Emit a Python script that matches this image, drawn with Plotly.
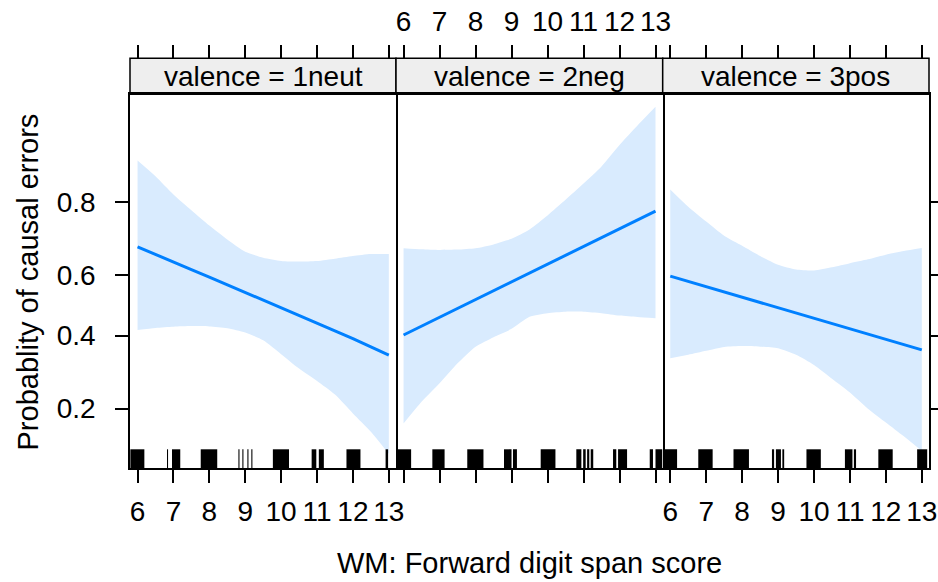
import numpy as np
import plotly.graph_objects as go

# ---------------- data ----------------
wm = [6, 6.5, 7, 7.5, 8, 8.5, 9, 9.5, 10, 10.5, 11, 11.5, 12, 12.5, 13]
x_ticks = [6, 7, 8, 9, 10, 11, 12, 13]
y_ticks = [0.2, 0.4, 0.6, 0.8]
y_ticktext = ["0.2", "0.4", "0.6", "0.8"]
panel_names = ["valence = 1neut", "valence = 2neg", "valence = 3pos"]

fit_neut = [0.687, 0.664, 0.641, 0.618, 0.594, 0.569, 0.544, 0.519, 0.493, 0.467, 0.441, 0.415, 0.390, 0.364, 0.339]
upper_neut = [0.875, 0.850, 0.816, 0.782, 0.745, 0.708, 0.673, 0.655, 0.645, 0.643, 0.645, 0.652, 0.660, 0.666, 0.666]
lower_neut = [0.418, 0.425, 0.429, 0.431, 0.430, 0.424, 0.410, 0.385, 0.342, 0.300, 0.266, 0.232, 0.190, 0.155, 0.120]

fit_neg = [0.402, 0.431, 0.460, 0.490, 0.519, 0.549, 0.578, 0.606, 0.634, 0.661, 0.687, 0.712, 0.736, 0.759, 0.780]
upper_neg = [0.683, 0.680, 0.678, 0.679, 0.683, 0.694, 0.710, 0.735, 0.770, 0.805, 0.837, 0.866, 0.896, 0.918, 0.935]
lower_neg = [0.170, 0.215, 0.260, 0.315, 0.365, 0.395, 0.422, 0.462, 0.474, 0.479, 0.479, 0.474, 0.466, 0.461, 0.457]

fit_pos = [0.597, 0.580, 0.562, 0.545, 0.528, 0.510, 0.492, 0.475, 0.457, 0.440, 0.423, 0.405, 0.388, 0.372, 0.355]
upper_pos = [0.826, 0.790, 0.755, 0.718, 0.690, 0.660, 0.633, 0.618, 0.615, 0.625, 0.638, 0.650, 0.664, 0.675, 0.684]
lower_pos = [0.330, 0.340, 0.352, 0.364, 0.367, 0.365, 0.360, 0.340, 0.310, 0.272, 0.237, 0.200, 0.172, 0.147, 0.124]

# rug: spans of observed (jittered) WM scores per panel
rug_neut = [[5.80, 6.19], [6.82, 6.85], [6.96, 7.19], [7.76, 8.22], [8.81, 8.84], [8.92, 8.95],
            [9.06, 9.09], [9.17, 9.20], [9.77, 10.22], [10.85, 10.98], [11.05, 11.19],
            [11.82, 12.21], [12.91, 12.98]]
rug_neg = [[5.80, 6.21], [6.80, 7.14], [7.77, 8.22], [8.79, 9.00], [9.04, 9.15], [9.81, 10.22],
           [10.80, 10.94], [10.99, 11.06], [11.10, 11.16], [11.20, 11.27], [11.82, 11.91],
           [11.96, 12.21], [12.84, 12.93], [13.00, 13.19]]
rug_pos = [[5.80, 6.19], [6.78, 7.18], [7.76, 8.19], [8.83, 8.89], [8.94, 9.08], [9.12, 9.17],
           [9.79, 10.19], [10.86, 11.07], [11.11, 11.17], [11.79, 12.19], [12.87, 13.15]]


def logit(p):
    p = np.asarray(p, dtype=float)
    return np.log(p / (1 - p))


# ---------------- layout constants ----------------
W, H = 938, 582
FONT = "Liberation Sans, Arial, sans-serif"
FS = 28
FS_TITLE = 29
LINE_COL = "#0080FF"
BAND_COL = "#D9EBFE"
STRIP_COL = "#EEEEEE"
BW = 1.5
x_px = [(130, 396), (396, 662.7), (662.7, 929)]
panel_top, panel_bot, strip_top = 94.3, 468.3, 58.3
x_range = [5.79, 13.2]
y_range = [-2.187, 2.834]
rug_frac = 19 / (panel_bot - panel_top)

def fx(px):
    return px / W

def fy(py):
    return 1 - py / H

panels = [
    (panel_names[0], fit_neut, lower_neut, upper_neut, rug_neut),
    (panel_names[1], fit_neg, lower_neg, upper_neg, rug_neg),
    (panel_names[2], fit_pos, lower_pos, upper_pos, rug_pos),
]

fig = go.Figure()
layout = {}
shapes = []
annotations = []

for i, (name, fit, lo, hi, rug) in enumerate(panels):
    k = i + 1
    xa = "x" if k == 1 else f"x{k}"
    ya = "y" if k == 1 else f"y{k}"
    xt = f"x{k + 3}"

    fig.add_trace(go.Scatter(x=wm, y=logit(lo), xaxis=xa, yaxis=ya, mode="lines",
                             line=dict(width=0, color=BAND_COL, shape="spline", smoothing=0.6),
                             showlegend=False, hoverinfo="skip"))
    fig.add_trace(go.Scatter(x=wm, y=logit(hi), xaxis=xa, yaxis=ya, mode="lines",
                             line=dict(width=0, color=BAND_COL, shape="spline", smoothing=0.6),
                             fill="tonexty", fillcolor=BAND_COL,
                             showlegend=False, hoverinfo="skip"))
    fig.add_trace(go.Scatter(x=wm, y=logit(fit), xaxis=xa, yaxis=ya, mode="lines",
                             line=dict(width=3, color=LINE_COL), showlegend=False))
    # invisible trace so that the top axis is drawn
    fig.add_trace(go.Scatter(x=[wm[0]], y=[float(logit(fit[0]))], xaxis=xt, yaxis=ya, mode="markers",
                             marker=dict(opacity=0), showlegend=False, hoverinfo="skip"))

    dom_x = [fx(x_px[i][0]), fx(x_px[i][1])]
    axis_common = dict(showgrid=False, zeroline=False, fixedrange=True,
                       tickfont=dict(family=FONT, size=FS, color="black"))
    layout[f"xaxis{'' if k == 1 else k}"] = dict(
        domain=dom_x, range=x_range, anchor=ya, showline=True, linecolor="black", linewidth=BW,
        mirror=True, ticks="outside", ticklen=13, tickwidth=BW, tickcolor="black",
        tickmode="array", tickvals=x_ticks, showticklabels=(k != 2), tickangle=0,
        ticklabelstandoff=4, **axis_common)
    layout[f"xaxis{k + 3}"] = dict(
        overlaying=xa, anchor="free", position=fy(strip_top), side="top", range=x_range,
        showline=False, ticks="outside", ticklen=13, tickwidth=BW, tickcolor="black",
        tickmode="array", tickvals=x_ticks, showticklabels=(k == 2), tickangle=0,
        ticklabelstandoff=3, **axis_common)
    ydict = dict(
        domain=[fy(panel_bot), fy(panel_top)], range=y_range, anchor=xa, showline=True,
        linecolor="black", linewidth=BW, tickmode="array",
        tickvals=list(logit(y_ticks)), ticktext=y_ticktext, **axis_common)
    if k == 1:
        ydict.update(mirror=True, ticks="outside", ticklen=13, tickwidth=BW, tickcolor="black",
                     showticklabels=True, ticklabelstandoff=14)
    elif k == 3:
        ydict.update(side="right", ticks="outside", ticklen=13, tickwidth=BW, tickcolor="black",
                     showticklabels=False)
    else:
        ydict.update(side="right", ticks="", showticklabels=False)
    layout[f"yaxis{'' if k == 1 else k}"] = ydict

    for a, b in rug:
        shapes.append(dict(type="rect", xref=xa, yref=f"{ya} domain", x0=a, x1=b, y0=0, y1=rug_frac,
                           fillcolor="black", line=dict(width=0), layer="above"))
    shapes.append(dict(type="rect", xref="paper", yref="paper", x0=dom_x[0], x1=dom_x[1],
                       y0=fy(panel_top), y1=fy(strip_top), fillcolor=STRIP_COL,
                       line=dict(color="black", width=BW), layer="below"))
    annotations.append(dict(text=name, xref="paper", yref="paper", x=(dom_x[0] + dom_x[1]) / 2,
                            y=fy((panel_top + strip_top) / 2), xanchor="center", yanchor="middle",
                            showarrow=False, font=dict(family=FONT, size=FS, color="black")))

annotations.append(dict(text="WM: Forward digit span score", xref="paper", yref="paper",
                        x=fx(529), y=fy(563), xanchor="center", yanchor="middle", showarrow=False,
                        font=dict(family=FONT, size=FS_TITLE, color="black")))
annotations.append(dict(text="Probablity of causal errors", xref="paper", yref="paper",
                        x=fx(27), y=fy(282.5), xanchor="center", yanchor="middle", textangle=-90,
                        showarrow=False, font=dict(family=FONT, size=FS_TITLE, color="black")))

fig.update_layout(**layout)
fig.update_layout(width=W, height=H, margin=dict(l=0, r=0, t=0, b=0, autoexpand=False),
                  paper_bgcolor="white", plot_bgcolor="white", shapes=shapes,
                  annotations=annotations, showlegend=False,
                  font=dict(family=FONT, size=FS, color="black"))
fig.write_html("out.html")
